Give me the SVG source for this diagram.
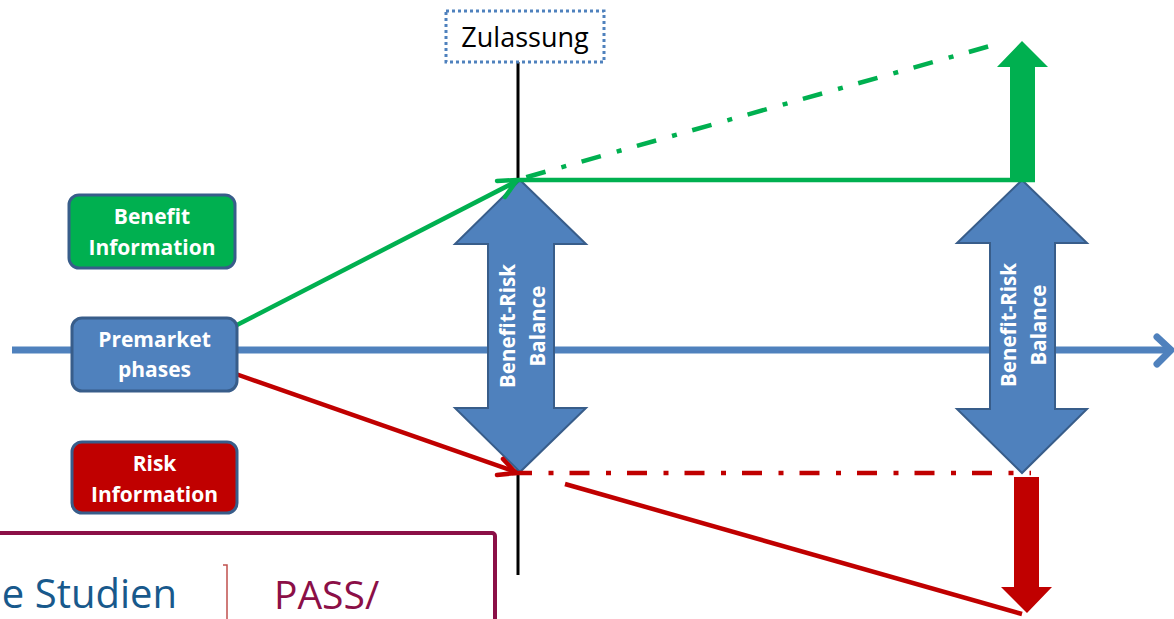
<svg xmlns="http://www.w3.org/2000/svg" width="1174" height="619" viewBox="0 0 1174 619">
  <defs>
    <style>
      .box { stroke: #385D8A; stroke-width: 3; }
      .boxtxt { font-family: "Open Sans", "Liberation Sans", sans-serif; font-weight: bold; font-size: 21px; fill: #FFFFFF; text-anchor: middle; }
      .dbl { fill: #4F81BD; stroke: #385D8A; stroke-width: 2; stroke-linejoin: miter; }
      .dbltxt { font-family: "Open Sans", "Liberation Sans", sans-serif; font-weight: bold; font-size: 20.5px; fill: #FFFFFF; text-anchor: middle; }
      .green { stroke: #00B050; stroke-width: 4.5; fill: none; }
      .red { stroke: #C00000; stroke-width: 4.5; fill: none; }
      .dashdot { stroke-dasharray: 20 16.5 5 16; }
      .head { stroke-linecap: round; stroke-linejoin: round; }
    </style>
  </defs>

  <rect width="1174" height="619" fill="#FFFFFF"/>

  <!-- time axis -->
  <g id="axis">
    <line x1="12" y1="350" x2="1170" y2="350" stroke="#4F81BD" stroke-width="7"/>
    <polyline points="1157,337 1171,350 1157,364" fill="none" stroke="#4F81BD" stroke-width="7" stroke-linecap="round" stroke-linejoin="round"/>
  </g>

  <!-- approval marker -->
  <g id="zulassung">
    <line x1="518" y1="62" x2="518" y2="575" stroke="#000000" stroke-width="3"/>
    <rect x="446" y="11" width="158" height="51" fill="#FFFFFF" stroke="#4F81BD" stroke-width="3" stroke-dasharray="3 3"/>
    <text x="525" y="47" font-family="'Open Sans', 'Liberation Sans', sans-serif" font-size="27" fill="#000000" text-anchor="middle">Zulassung</text>
  </g>

  <!-- benefit-risk balance at approval -->
  <g id="balance-1">
    <path class="dbl" d="M520,180 L586,244 L554,244 L554,408 L586,408 L520,472 L455,408 L488,408 L488,244 L455,244 Z"/>
    <g transform="translate(521,326) rotate(-90)">
      <text class="dbltxt" x="0" y="-6">Benefit-Risk</text>
      <text class="dbltxt" x="0" y="24">Balance</text>
    </g>
  </g>

  <!-- benefit-risk balance later -->
  <g id="balance-2">
    <path class="dbl" d="M1022,180 L1087,243 L1055,243 L1055,409 L1087,409 L1022,473 L957,409 L990,409 L990,243 L957,243 Z"/>
    <g transform="translate(1022,325) rotate(-90)">
      <text class="dbltxt" x="0" y="-6">Benefit-Risk</text>
      <text class="dbltxt" x="0" y="24">Balance</text>
    </g>
  </g>

  <!-- connectors -->
  <g id="connectors">
    <!-- benefit path -->
    <line class="green" x1="233" y1="327" x2="517" y2="181"/>
    <polyline class="green head" points="497,181 517,180 505,197"/>
    <line class="green" x1="518" y1="180" x2="1035" y2="180"/>
    <line class="green dashdot" x1="520" y1="179" x2="997" y2="44" stroke-dashoffset="51"/>
    <path d="M1010,178 L1010,67 L997,67 L1022,41 L1048,67 L1035,67 L1035,178 Z" fill="#00B050"/>

    <!-- risk path -->
    <line class="red" x1="233" y1="373" x2="516" y2="472"/>
    <polyline class="red head" points="497,475 516,473 503,459"/>
    <line class="red dashdot" x1="512" y1="473" x2="1031" y2="473"/>
    <line class="red" x1="565" y1="484" x2="1022" y2="614"/>
    <path d="M1014,477 L1014,587 L1001,587 L1027,613 L1052,587 L1039,587 L1039,477 Z" fill="#C00000"/>
  </g>

  <!-- information nodes -->
  <g id="benefit-information">
    <rect class="box" x="69" y="195" width="166" height="73" rx="10" fill="#00B050"/>
    <text class="boxtxt" x="152" y="224">Benefit</text>
    <text class="boxtxt" x="152" y="255">Information</text>
  </g>

  <g id="premarket-phases">
    <rect class="box" x="72" y="318" width="165" height="73" rx="10" fill="#4F81BD"/>
    <text class="boxtxt" x="154.5" y="347">Premarket</text>
    <text class="boxtxt" x="154.5" y="377">phases</text>
  </g>

  <g id="risk-information">
    <rect class="box" x="72" y="442" width="165" height="71" rx="10" fill="#C00000"/>
    <text class="boxtxt" x="154.5" y="471">Risk</text>
    <text class="boxtxt" x="154.5" y="502">Information</text>
  </g>

  <!-- lower study panel -->
  <g id="study-panel">
    <rect x="-10" y="533" width="505" height="120" rx="3" fill="none" stroke="#8B0F47" stroke-width="4"/>
    <text x="177" y="608" font-family="'Open Sans', 'Liberation Sans', sans-serif" font-size="40" fill="#18598C" text-anchor="end">e Studien</text>
    <polyline points="223,565 227,565 227,619" fill="none" stroke="#C0504D" stroke-width="1.5"/>
    <text x="274" y="609" font-family="'Open Sans', 'Liberation Sans', sans-serif" font-size="39" fill="#8B0F47">PASS/</text>
  </g>
</svg>
